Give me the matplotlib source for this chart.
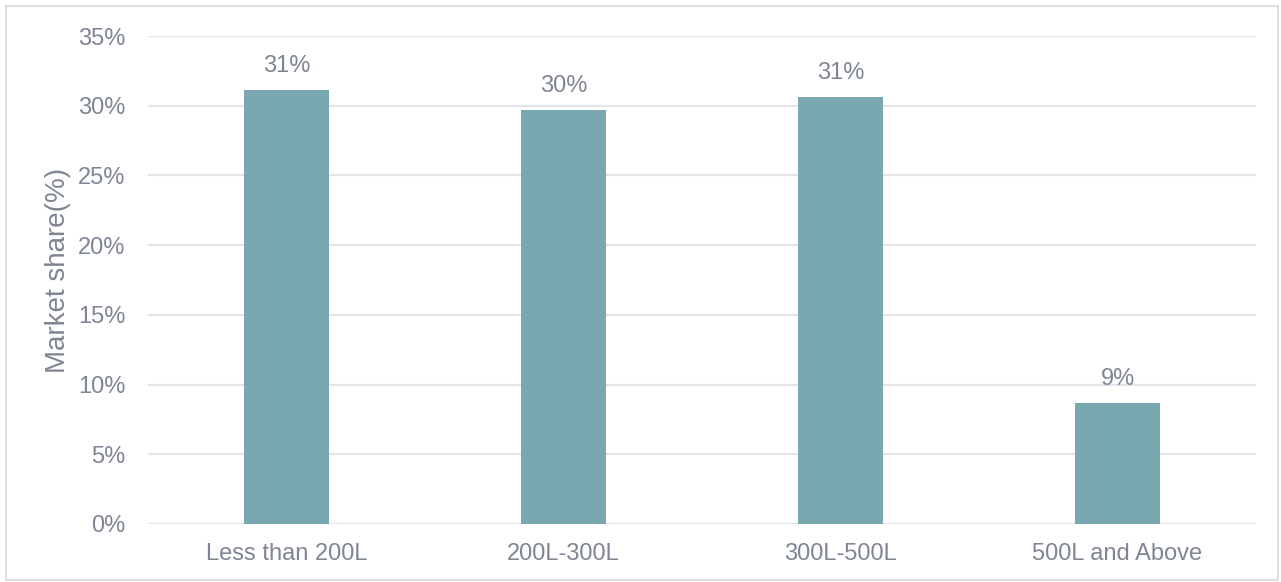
import matplotlib
matplotlib.use('Agg')
import matplotlib.pyplot as plt
from matplotlib.patches import Rectangle
from matplotlib.ticker import FuncFormatter

# Cuota de mercado por capacidad
categorias = ['Less than 200L', '200L-300L', '300L-500L', '500L and Above']
cuota = [31.1, 29.7, 30.6, 8.7]

color_barra = '#7aa8b0'
color_texto = '#7f8593'
color_rejilla = '#e3e3ea'

plt.rcParams['font.family'] = ['Liberation Sans', 'DejaVu Sans']

fig = plt.figure(figsize=(12.81, 5.82), dpi=100)
ax = fig.add_axes([0.1155, 0.0997, 0.865, 0.8383])

# Marco exterior gris claro
fig.patches.append(Rectangle((0.0047, 0.0034), 0.9931, 0.9863, transform=fig.transFigure,
                             fill=False, edgecolor='#dcdce2', linewidth=1.5))

pos = range(len(categorias))
ax.bar(pos, cuota, width=0.31, color=color_barra, zorder=3)

for x, v in zip(pos, cuota):
    ax.annotate(f'{v:.0f}%', (x, v), xytext=(0, 13), textcoords='offset points',
                ha='center', va='baseline', fontsize=17, color=color_texto)

ax.set_xlim(-0.5, len(categorias) - 0.5)
ax.set_ylim(0, 35)
ax.set_yticks(range(0, 36, 5))
ax.yaxis.set_major_formatter(FuncFormatter(lambda v, p: f'{v:.0f}%'))
ax.set_xticks(list(pos))
ax.set_xticklabels(categorias)

ax.grid(axis='y', color=color_rejilla, linewidth=1.5, zorder=0)
for lado in ax.spines.values():
    lado.set_visible(False)
ax.tick_params(length=0, labelsize=17, colors=color_texto)
ax.tick_params(axis='x', pad=14)
ax.tick_params(axis='y', pad=16)

ax.set_ylabel('Market share(%)', fontsize=20, color=color_texto)
ax.yaxis.set_label_coords(-0.069, 0.52)

fig.savefig('out.png', dpi=100)
